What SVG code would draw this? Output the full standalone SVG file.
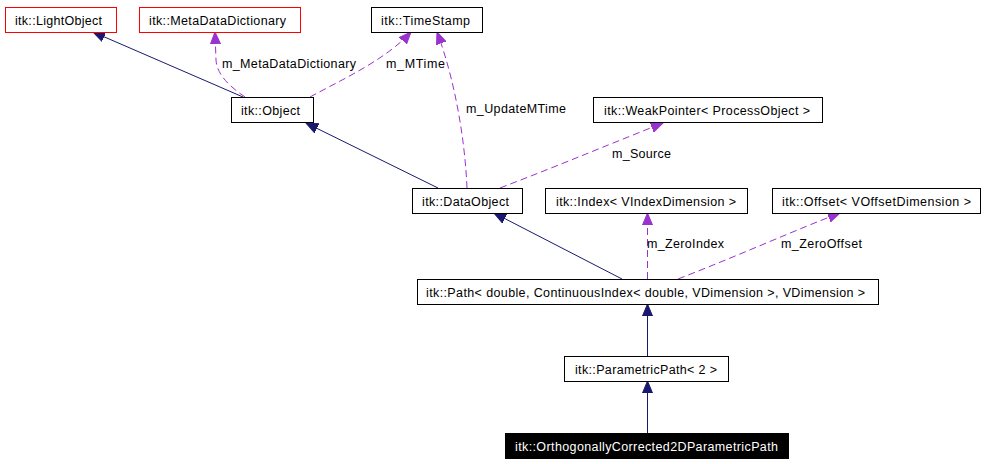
<svg xmlns="http://www.w3.org/2000/svg" width="988" height="464" viewBox="0 0 988 464">
<style>
  .box { fill: #ffffff; stroke: #000000; stroke-width: 1; }
  .red { stroke: #ff0000; }
  .dark { fill: #000000; stroke: #000000; }
  .t { font-family: "Liberation Sans", Arial, Helvetica, sans-serif; font-size: 12.5px; fill: #000000; }
  .w { fill: #ffffff; }
  .inh { fill: none; stroke: #191970; stroke-width: 1; marker-end: url(#navyArrow); }
  .col { fill: none; stroke: #9a32cd; stroke-width: 1; stroke-dasharray: 7,4; marker-end: url(#purpleArrow); }
</style>
<defs>
  <marker id="navyArrow" markerUnits="userSpaceOnUse" markerWidth="13" markerHeight="11" refX="12" refY="5.5" orient="auto" viewBox="0 0 13 11">
    <path d="M0,0.5 L12,5.5 L0,10.5 z" fill="#191970" stroke="#191970" stroke-width="1"/>
  </marker>
  <marker id="purpleArrow" markerUnits="userSpaceOnUse" markerWidth="13" markerHeight="11" refX="12" refY="5.5" orient="auto" viewBox="0 0 13 11">
    <path d="M0,0.5 L12,5.5 L0,10.5 z" fill="#9a32cd" stroke="#9a32cd" stroke-width="1" stroke-dasharray="none"/>
  </marker>
</defs>
<rect width="988" height="464" fill="#ffffff"/>

<g id="connectors">
  <path class="inh" d="M243,97 L93,32"/>
  <path class="inh" d="M438,188 L306,123"/>
  <path class="inh" d="M622,279 L494,213"/>
  <path class="inh" d="M647.5,357 L647.5,304"/>
  <path class="inh" d="M647.5,433 L647.5,381"/>

  <path class="col" d="M245,97 C232,88 217,76 216,60 L215,32"/>
  <path class="col" d="M310,97 C345,78 385,60 411,32"/>
  <path class="col" d="M467,188 C465,140 455,80 437,32"/>
  <path class="col" d="M500,188 C560,165 620,140 663,123"/>
  <path class="col" d="M647.5,279 L647.5,213"/>
  <path class="col" d="M678,279 C740,255 800,228 840,213"/>

  <text class="t" x="222" y="68" textLength="134" lengthAdjust="spacing">m_MetaDataDictionary</text>
  <text class="t" x="386" y="68" textLength="59" lengthAdjust="spacing">m_MTime</text>
  <text class="t" x="466" y="113" textLength="100" lengthAdjust="spacing">m_UpdateMTime</text>
  <text class="t" x="612" y="158" textLength="59" lengthAdjust="spacing">m_Source</text>
  <text class="t" x="647" y="248" textLength="77" lengthAdjust="spacing">m_ZeroIndex</text>
  <text class="t" x="781" y="248" textLength="81" lengthAdjust="spacing">m_ZeroOffset</text>
</g>

<g id="LightObject">
  <rect class="box red" x="5.5" y="7.5" width="111" height="25"/>
  <text class="t" x="15" y="24.5" textLength="87" lengthAdjust="spacing">itk::LightObject</text>
</g>
<g id="MetaDataDictionary">
  <rect class="box red" x="139.5" y="7.5" width="161" height="25"/>
  <text class="t" x="149" y="24.5" textLength="137" lengthAdjust="spacing">itk::MetaDataDictionary</text>
</g>
<g id="TimeStamp">
  <rect class="box" x="371.5" y="7.5" width="111" height="25"/>
  <text class="t" x="381" y="24.5" textLength="89" lengthAdjust="spacing">itk::TimeStamp</text>
</g>
<g id="Object">
  <rect class="box" x="231.5" y="97.5" width="82" height="25"/>
  <text class="t" x="241" y="114.5" textLength="59" lengthAdjust="spacing">itk::Object</text>
</g>
<g id="WeakPointer">
  <rect class="box" x="593.5" y="97.5" width="229" height="25"/>
  <text class="t" x="604" y="114.5" textLength="206" lengthAdjust="spacing">itk::WeakPointer&lt; ProcessObject &gt;</text>
</g>
<g id="DataObject">
  <rect class="box" x="412.5" y="188.5" width="110" height="25"/>
  <text class="t" x="422" y="205.5" textLength="87" lengthAdjust="spacing">itk::DataObject</text>
</g>
<g id="Index">
  <rect class="box" x="545.5" y="188.5" width="202" height="25"/>
  <text class="t" x="556" y="205.5" textLength="180" lengthAdjust="spacing">itk::Index&lt; VIndexDimension &gt;</text>
</g>
<g id="Offset">
  <rect class="box" x="772.5" y="188.5" width="208" height="25"/>
  <text class="t" x="782" y="205.5" textLength="189" lengthAdjust="spacing">itk::Offset&lt; VOffsetDimension &gt;</text>
</g>
<g id="Path">
  <rect class="box" x="417.5" y="279.5" width="461" height="25"/>
  <text class="t" x="426" y="296.5" textLength="439" lengthAdjust="spacing">itk::Path&lt; double, ContinuousIndex&lt; double, VDimension &gt;, VDimension &gt;</text>
</g>
<g id="ParametricPath">
  <rect class="box" x="564.5" y="356.5" width="164" height="25"/>
  <text class="t" x="575" y="373.5" textLength="142" lengthAdjust="spacing">itk::ParametricPath&lt; 2 &gt;</text>
</g>
<g id="OrthogonallyCorrected2DParametricPath">
  <rect class="box dark" x="505.5" y="433.5" width="283" height="25"/>
  <text class="t w" x="515" y="450.5" textLength="263" lengthAdjust="spacing">itk::OrthogonallyCorrected2DParametricPath</text>
</g>
</svg>
